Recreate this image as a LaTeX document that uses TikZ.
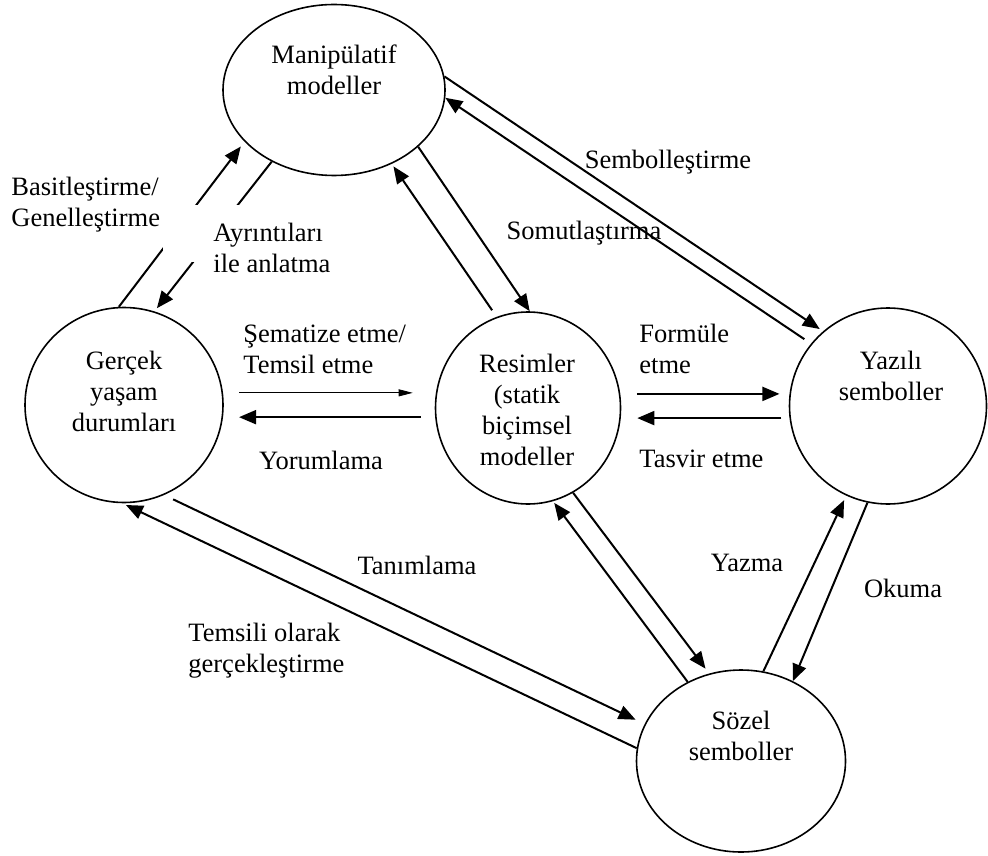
\documentclass[tikz,border=0pt]{standalone}
\usepackage{fontspec}
\setmainfont{Liberation Serif}
\usetikzlibrary{arrows.meta,shapes.geometric}

\begin{document}
\begin{tikzpicture}[x=0.5pt,y=-0.5pt,
  every node/.style={inner sep=0pt,font=\fontsize{13.25pt}{15.5pt}\selectfont},
  rep/.style={ellipse,draw,line width=0.8pt},
  lbl/.style={align=left,anchor=west},
  tr/.style={line width=1pt,-{Triangle[length=8.5pt,width=7pt]}},
  thintr/.style={line width=0.4pt,-{Triangle[length=7pt,width=3.5pt]}}]
\useasboundingbox (0,0) rectangle (988,855);

\node[rep,minimum width=111pt,minimum height=85.5pt] (man) at (334,90) {};
\node[rep,minimum width=99pt,minimum height=97.5pt] (ger) at (124,405) {};
\node[rep,minimum width=92.5pt,minimum height=96pt] (res) at (528,408) {};
\node[rep,minimum width=98.5pt,minimum height=98pt] (yaz) at (888,406) {};
\node[rep,minimum width=104.5pt,minimum height=91pt] (soz) at (741,761) {};

\node[align=center] (man-t) at (334,70) {Manipülatif\\modeller};
\node[align=center] (ger-t) at (124,391) {Gerçek\\yaşam\\durumları};
\node[align=center] (res-t) at (527,410) {Resimler\\(statik\\biçimsel\\modeller};
\node[align=center] (yaz-t) at (891,376) {Yazılı\\semboller};
\node[align=center] (soz-t) at (741,736) {Sözel\\semboller};

\draw[tr,shorten >=3pt] (ger.93) -- (man.210);
\draw[tr,shorten >=2pt] (man.229) -- (ger.72);
\draw[tr,shorten <=4pt,shorten >=1.5pt] (res.109) -- (man.308);
\draw[tr] (man.326) -- (res.89);
\draw[tr,shorten >=2pt] (man.7) -- (yaz.131);
\draw[tr,shorten <=4pt] (yaz.141) -- (man.356);
\draw[thintr,shorten <=8pt,shorten >=11pt] (ger.7) -- (ger.7 -| res.west);
\draw[tr,shorten <=7pt,shorten >=8pt] (ger.353 -| res.west) -- (ger.353);
\draw[tr,shorten <=7.75pt,shorten >=5pt] (yaz.173 -| res.east) -- (yaz.173);
\draw[tr,shorten <=4pt,shorten >=8pt] (yaz.187) -- (yaz.187 -| res.east);
\draw[tr,shorten >=2pt] (soz.173) -- (ger.269);
\draw[tr,shorten <=5pt,shorten >=5pt] (ger.294) -- (soz.159);
\draw[tr,shorten >=1pt] (soz.124) -- (res.285);
\draw[tr,shorten >=3pt] (res.298) -- (soz.110);
\draw[tr,shorten >=2.5pt] (soz.76) -- (yaz.245);
\draw[tr] (yaz.258) -- (soz.57);

\fill[white] (163,205) rectangle (335,262);

\node[lbl] (basit) at (11,205) {Basitleştirme/\\Genelleştirme};
\node[lbl] (ayrinti) at (213,247.5) {Ayrıntıları\\ile anlatma};
\node (sembol) at (668,162) {Sembolleştirme};
\node (somut) at (584,233) {Somutlaştırma};
\node[lbl] (sema) at (243,349) {Şematize etme/\\Temsil etme};
\node (yorum) at (321,460) {Yorumlama};
\node[lbl] (formul) at (639,349) {Formüle\\etme};
\node[lbl] (tasvir) at (639,459) {Tasvir etme};
\node (tanim) at (417,565) {Tanımlama};
\node[lbl] (temsil) at (188,651) {Temsili olarak\\gerçekleştirme};
\node (yazma) at (747,563) {Yazma};
\node (okuma) at (903,588) {Okuma};
\end{tikzpicture}
\end{document}
